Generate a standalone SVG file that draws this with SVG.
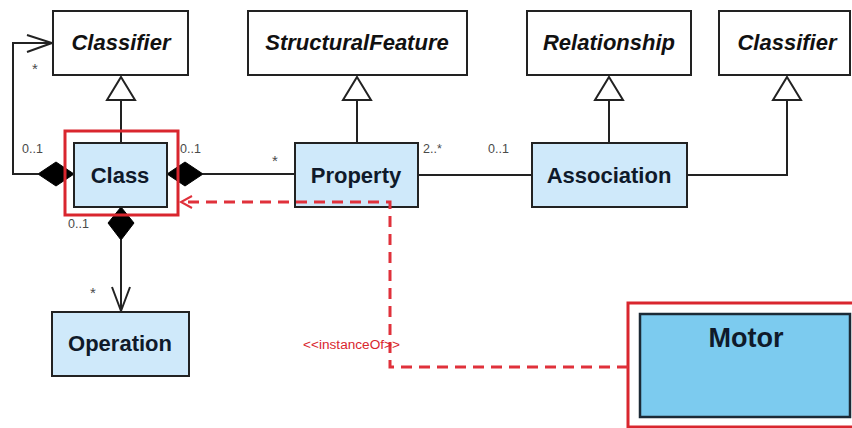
<svg xmlns="http://www.w3.org/2000/svg" width="852" height="428" viewBox="0 0 852 428">
  <style>
    .box { fill: #ffffff; stroke: #222222; stroke-width: 2; }
    .cls { fill: #cfe9fa; stroke: #222222; stroke-width: 2; }
    .abs { font-family: "Liberation Sans", Arial, sans-serif; font-size: 22px; font-weight: bold; font-style: italic; fill: #111111; text-anchor: middle; }
    .name { font-family: "Liberation Sans", Arial, sans-serif; font-size: 22px; font-weight: bold; fill: #0f1a2a; text-anchor: middle; }
    .mult { font-family: "Liberation Sans", Arial, sans-serif; font-size: 12.5px; fill: #4a4a4a; }
    .star { font-family: "Liberation Sans", Arial, sans-serif; font-size: 15px; fill: #4a4a4a; }
    .line { fill: none; stroke: #222222; stroke-width: 2; }
    .gen { fill: #ffffff; stroke: #222222; stroke-width: 2; stroke-linejoin: miter; }
    .dia { fill: #000000; stroke: #000000; stroke-width: 1; }
    .hl { fill: none; stroke: #d9262e; stroke-width: 3; }
    .dash { fill: none; stroke: #e0313b; stroke-width: 3; stroke-dasharray: 11 7; }
    .stereo { font-family: "Liberation Sans", Arial, sans-serif; font-size: 12px; fill: #d9262e; }
  </style>

  <!-- connectors -->
  <g id="connectors">
    <!-- generalizations -->
    <line class="line" x1="121" y1="100" x2="121" y2="143"/>
    <polygon class="gen" points="121,77 135,100 107,100"/>
    <line class="line" x1="357" y1="100" x2="357" y2="143"/>
    <polygon class="gen" points="357,77 371,100 343,100"/>
    <line class="line" x1="609" y1="100" x2="609" y2="143"/>
    <polygon class="gen" points="609,77 623,100 595,100"/>
    <polyline class="line" points="687,175 787,175 787,100"/>
    <polygon class="gen" points="787,77 801,100 773,100"/>

    <!-- Class self composition to Classifier -->
    <polyline class="line" points="38,174 13,174 13,43 51,43"/>
    <polyline class="line" points="27,35 52,43 27,52"/>
    <polygon class="dia" points="74,174 56,162 38,174 56,186"/>

    <!-- Class to Property composition -->
    <line class="line" x1="203" y1="174" x2="295" y2="174"/>
    <polygon class="dia" points="167,174 185,162 203,174 185,186"/>

    <!-- Class to Operation composition -->
    <line class="line" x1="121" y1="240" x2="121" y2="311"/>
    <polyline class="line" points="112,287 121,311 130,287"/>
    <polygon class="dia" points="121,207 134,223 121,240 108,223"/>

    <!-- Property to Association -->
    <line class="line" x1="418" y1="175" x2="532" y2="175"/>

    <!-- multiplicities -->
    <text class="star" x="32" y="74">*</text>
    <text class="mult" x="22" y="153">0..1</text>
    <text class="mult" x="180" y="153">0..1</text>
    <text class="star" x="272" y="166">*</text>
    <text class="mult" x="68" y="228">0..1</text>
    <text class="star" x="90" y="298">*</text>
    <text class="mult" x="423" y="153">2..*</text>
    <text class="mult" x="488" y="153">0..1</text>
  </g>

  <!-- abstract metaclasses -->
  <g id="classifier-left">
    <rect class="box" x="53" y="11" width="135" height="64"/>
    <text class="abs" x="121" y="50">Classifier</text>
  </g>
  <g id="structural-feature">
    <rect class="box" x="248" y="11" width="219" height="64"/>
    <text class="abs" x="357" y="50">StructuralFeature</text>
  </g>
  <g id="relationship">
    <rect class="box" x="527" y="11" width="164" height="64"/>
    <text class="abs" x="609" y="50">Relationship</text>
  </g>
  <g id="classifier-right">
    <rect class="box" x="719" y="11" width="131" height="64"/>
    <text class="abs" x="787" y="50">Classifier</text>
  </g>

  <!-- concrete metaclasses -->
  <g id="class">
    <rect class="hl" x="65" y="131" width="113" height="84"/>
    <rect class="cls" x="74" y="143" width="93" height="64"/>
    <text class="name" x="120" y="183">Class</text>
  </g>
  <g id="property">
    <rect class="cls" x="295" y="143" width="123" height="64"/>
    <text class="name" x="356" y="183">Property</text>
  </g>
  <g id="association">
    <rect class="cls" x="532" y="143" width="155" height="64"/>
    <text class="name" x="609" y="183">Association</text>
  </g>
  <g id="operation">
    <rect class="cls" x="52" y="312" width="137" height="64"/>
    <text class="name" x="120" y="351">Operation</text>
  </g>

  <!-- instance -->
  <g id="motor">
    <rect class="hl" x="628" y="303" width="240" height="124"/>
    <rect x="640" y="314" width="210" height="103" fill="#7ccbef" stroke="#1b2a36" stroke-width="2.5"/>
    <text class="name" x="746" y="347" style="font-size:27px">Motor</text>
  </g>

  <!-- instanceOf dependency -->
  <g id="instance-of">
    <polyline class="dash" points="628,367 390,367 390,202 186,202"/>
    <polyline fill="none" stroke="#e0313b" stroke-width="2" points="192,196 181,202 192,208"/>
    <text class="stereo" x="303" y="349" textLength="97" lengthAdjust="spacingAndGlyphs">&lt;&lt;instanceOf&gt;&gt;</text>
  </g>
</svg>
